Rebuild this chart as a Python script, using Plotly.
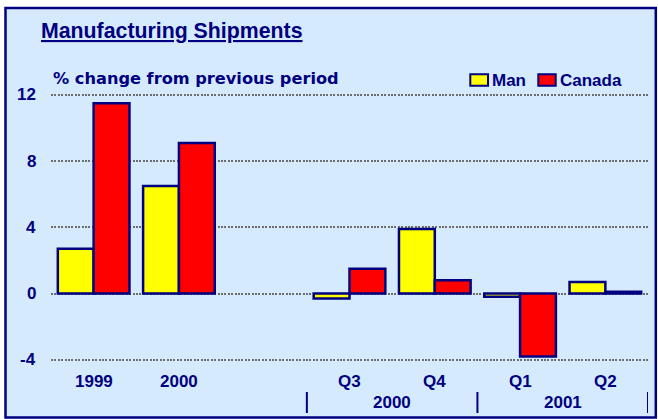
import plotly.graph_objects as go

categories = ["1999", "2000", "Q3", "Q4", "Q1", "Q2"]
positions = [0, 1, 3, 4, 5, 6]
man = [2.7, 6.5, -0.3, 3.9, -0.2, 0.7]
canada = [11.5, 9.1, 1.5, 0.8, -3.8, 0.1]
year_groups = ["2000", "2001"]
year_group_pos = [3.5, 5.5]
separators = [2.5, 4.5, 6.5]
y_ticks = [-4, 0, 4, 8, 12]

NAVY = "#000080"
BG = "#D5EBFD"
FONT = "Liberation Sans, Arial, sans-serif"

W, H = 658, 419
L, R, T, B = 51, 10, 78, 53
PW, PH = W - L - R, H - T - B


def xp(px):
    return (px - L) / PW


def yp(py):
    return (H - B - py) / PH


fig = go.Figure()
fig.add_trace(go.Bar(x=positions, y=man, name="Man",
                     marker=dict(color="#FFFF00", line=dict(color=NAVY, width=2.5))))
fig.add_trace(go.Bar(x=positions, y=canada, name="Canada",
                     marker=dict(color="#FF0000", line=dict(color=NAVY, width=2.5))))

zero_px = 293.5
ppu = 16.55
y_top = (zero_px - T) / ppu
y_bot = -((H - B) - zero_px) / ppu

shapes = [
    dict(type="rect", xref="paper", yref="paper", layer="below",
         x0=xp(5.5), x1=xp(655.8), y0=yp(417.5), y1=yp(8),
         fillcolor=BG, line=dict(color=NAVY, width=2.5)),
]
for s in separators:
    shapes.append(dict(type="line", xref="x", yref="paper", x0=s, x1=s,
                       y0=yp(413), y1=yp(392), line=dict(color=NAVY, width=2)))
# legend boxes
shapes.append(dict(type="rect", xref="paper", yref="paper",
                   x0=xp(470.3), x1=xp(488), y0=yp(85.7), y1=yp(74.3),
                   fillcolor="#FFFF00", line=dict(color=NAVY, width=2)))
shapes.append(dict(type="rect", xref="paper", yref="paper",
                   x0=xp(538.3), x1=xp(555.7), y0=yp(85.7), y1=yp(74.3),
                   fillcolor="#FF0000", line=dict(color=NAVY, width=2)))

ann = []
ann.append(dict(text="<b><u>Manufacturing Shipments</u></b>", xref="paper", yref="paper",
                x=xp(39), y=yp(31), xanchor="left", yanchor="middle", showarrow=False,
                font=dict(family=FONT, size=21.3, color=NAVY)))
ann.append(dict(text="<b>% change from previous period</b>", xref="paper", yref="paper",
                x=xp(51), y=yp(78.5), xanchor="left", yanchor="middle", showarrow=False,
                font=dict(family="DejaVu Sans, sans-serif", size=16.2, color=NAVY)))
ann.append(dict(text="<b>Man</b>", xref="paper", yref="paper",
                x=xp(490), y=yp(80), xanchor="left", yanchor="middle", showarrow=False,
                font=dict(family=FONT, size=17, color=NAVY)))
ann.append(dict(text="<b>Canada</b>", xref="paper", yref="paper",
                x=xp(558), y=yp(80), xanchor="left", yanchor="middle", showarrow=False,
                font=dict(family=FONT, size=17, color=NAVY)))
for v in y_ticks:
    ann.append(dict(text=f"<b>{v}</b>", xref="paper", yref="y",
                    x=xp(37.5), y=v, xanchor="right", yanchor="middle", showarrow=False,
                    font=dict(family=FONT, size=17, color=NAVY)))
for c, p in zip(categories, positions):
    ann.append(dict(text=f"<b>{c}</b>", xref="x", yref="paper",
                    x=p, y=yp(381), xanchor="center", yanchor="middle", showarrow=False,
                    font=dict(family=FONT, size=17, color=NAVY)))
for g, p in zip(year_groups, year_group_pos):
    ann.append(dict(text=f"<b>{g}</b>", xref="x", yref="paper",
                    x=p, y=yp(402.5), xanchor="center", yanchor="middle", showarrow=False,
                    font=dict(family=FONT, size=17, color=NAVY)))

fig.update_layout(
    width=W, height=H,
    margin=dict(l=L, r=R, t=T, b=B, pad=0),
    paper_bgcolor="white",
    plot_bgcolor="rgba(0,0,0,0)",
    barmode="group",
    bargap=0.16,
    bargroupgap=0,
    showlegend=False,
    shapes=shapes,
    annotations=ann,
    xaxis=dict(range=[-0.5, 6.5], showticklabels=False, showgrid=False,
               zeroline=False, showline=False, ticks="", fixedrange=True),
    yaxis=dict(range=[y_bot, y_top], tickvals=y_ticks, showticklabels=False,
               showgrid=True, gridcolor="#6E6E6E", gridwidth=2,
               griddash="2px,1.4px", zeroline=False, showline=False, ticks=""),
)

fig.write_html("out.html", config={"displayModeBar": False},
               post_script="document.body.style.margin='0';document.body.style.overflow='hidden';")
